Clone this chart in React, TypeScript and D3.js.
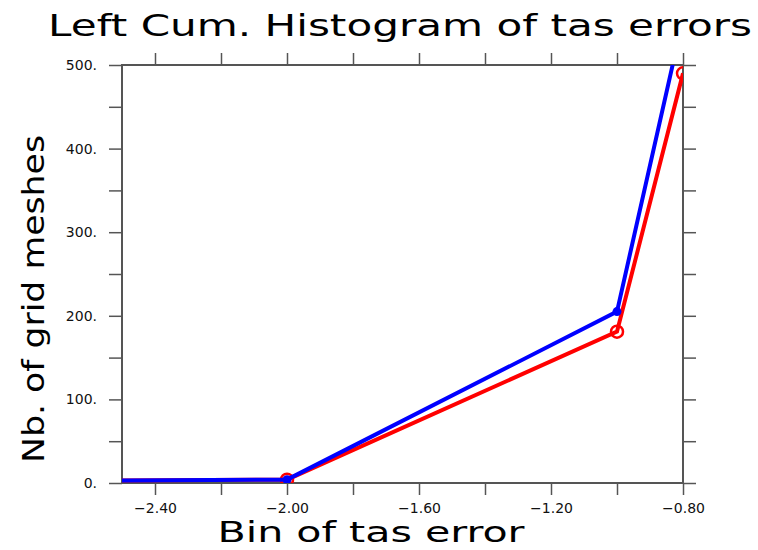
import React, { useEffect, useRef } from 'react';
import * as d3 from 'd3';

// bins of tas error and cumulated counts for each run
const bins = [-3.0, -2.0, -1.0, -0.8];
const blueCounts = [2, 4, 205, 555];
const redCounts = [2, 4, 181, 490];
const xMajorTicks = [-2.4, -2.0, -1.6, -1.2, -0.8];
const xMinorTicks = [-2.2, -1.8, -1.4, -1.0];
const yMajorTicks = [0, 100, 200, 300, 400, 500];
const yMinorTicks = [50, 150, 250, 350, 450];

const App = () => {
  const ref = useRef<SVGSVGElement | null>(null);

  useEffect(() => {
    drawChart();
  }, []);

  const drawChart = () => {
    const svg = d3.select(ref.current);
    svg.selectAll('*').remove();

    const left = 122, right = 683, top = 65, bottom = 483;
    const font = '"DejaVu Sans", sans-serif';
    const axisColor = '#555';

    const x = d3.scaleLinear().domain([-2.5, -0.8]).range([left, right]);
    const y = d3.scaleLinear().domain([0, 500]).range([bottom, top]);

    svg.append('defs').append('clipPath').attr('id', 'plot-clip')
      .append('rect')
      .attr('x', left).attr('y', top)
      .attr('width', right - left).attr('height', bottom - top);

    // Title and axis labels
    svg.append('text')
      .attr('x', 400).attr('y', 36)
      .attr('text-anchor', 'middle')
      .attr('font-family', font)
      .attr('font-size', 30)
      .attr('textLength', 704)
      .attr('lengthAdjust', 'spacingAndGlyphs')
      .text('Left Cum. Histogram of tas errors');

    svg.append('text')
      .attr('x', 371).attr('y', 542)
      .attr('text-anchor', 'middle')
      .attr('font-family', font)
      .attr('font-size', 28)
      .attr('textLength', 307)
      .attr('lengthAdjust', 'spacingAndGlyphs')
      .text('Bin of tas error');

    svg.append('text')
      .attr('transform', `translate(44,299) rotate(-90)`)
      .attr('text-anchor', 'middle')
      .attr('font-family', font)
      .attr('font-size', 30)
      .attr('textLength', 328)
      .attr('lengthAdjust', 'spacingAndGlyphs')
      .text('Nb. of grid meshes');

    const styleAxis = (g) => {
      g.select('.domain').remove();
      g.selectAll('line').attr('stroke', axisColor).attr('stroke-width', 1.5);
      g.selectAll('text')
        .attr('font-family', font)
        .attr('font-size', 14)
        .attr('fill', '#111');
    };

    const fmtX = (d) => d3.format('.2f')(d).replace('-', '\u2212');
    const fmtY = (d) => `${d}.`;

    // Bottom axis
    svg.append('g').attr('transform', `translate(0,${bottom})`)
      .call(d3.axisBottom(x).tickValues(xMajorTicks).tickFormat(fmtX).tickSizeInner(12).tickSizeOuter(0).tickPadding(8))
      .call(styleAxis);
    svg.append('g').attr('transform', `translate(0,${bottom})`)
      .call(d3.axisBottom(x).tickValues(xMinorTicks).tickFormat(() => '').tickSizeInner(12).tickSizeOuter(0))
      .call(styleAxis);

    // Top axis
    svg.append('g').attr('transform', `translate(0,${top})`)
      .call(d3.axisTop(x).tickValues([...xMajorTicks, ...xMinorTicks]).tickFormat(() => '').tickSizeInner(12).tickSizeOuter(0))
      .call(styleAxis);

    // Left axis
    svg.append('g').attr('transform', `translate(${left},0)`)
      .call(d3.axisLeft(y).tickValues(yMajorTicks).tickFormat(fmtY).tickSizeInner(13).tickSizeOuter(0).tickPadding(12))
      .call(styleAxis);
    svg.append('g').attr('transform', `translate(${left},0)`)
      .call(d3.axisLeft(y).tickValues(yMinorTicks).tickFormat(() => '').tickSizeInner(13).tickSizeOuter(0))
      .call(styleAxis);

    // Right axis
    svg.append('g').attr('transform', `translate(${right},0)`)
      .call(d3.axisRight(y).tickValues([...yMajorTicks, ...yMinorTicks]).tickFormat(() => '').tickSizeInner(13).tickSizeOuter(0))
      .call(styleAxis);

    // Frame
    svg.append('rect')
      .attr('x', left).attr('y', top)
      .attr('width', right - left).attr('height', bottom - top)
      .attr('fill', 'none')
      .attr('stroke', axisColor)
      .attr('stroke-width', 2);

    const plot = svg.append('g').attr('clip-path', 'url(#plot-clip)');

    const line = d3.line<number>()
      .x((d, i) => x(bins[i]))
      .y(d => y(d));

    plot.append('path')
      .datum(redCounts)
      .attr('d', line)
      .attr('fill', 'none')
      .attr('stroke', '#ff0000')
      .attr('stroke-width', 4);

    plot.selectAll('.red-marker')
      .data(redCounts)
      .enter().append('circle')
      .attr('cx', (d, i) => x(bins[i]))
      .attr('cy', d => y(d))
      .attr('r', 6)
      .attr('fill', 'none')
      .attr('stroke', '#ff0000')
      .attr('stroke-width', 2.5);

    plot.append('path')
      .datum(blueCounts)
      .attr('d', line)
      .attr('fill', 'none')
      .attr('stroke', '#0000ff')
      .attr('stroke-width', 4);

    plot.selectAll('.blue-marker')
      .data(blueCounts)
      .enter().append('circle')
      .attr('cx', (d, i) => x(bins[i]))
      .attr('cy', d => y(d))
      .attr('r', 4.5)
      .attr('fill', '#0000ff');
  };

  return (
    <svg
      ref={ref}
      width={758}
      height={550}
      style={{ position: 'absolute', left: 0, top: 0, display: 'block' }}
    />
  );
};

export default App;
